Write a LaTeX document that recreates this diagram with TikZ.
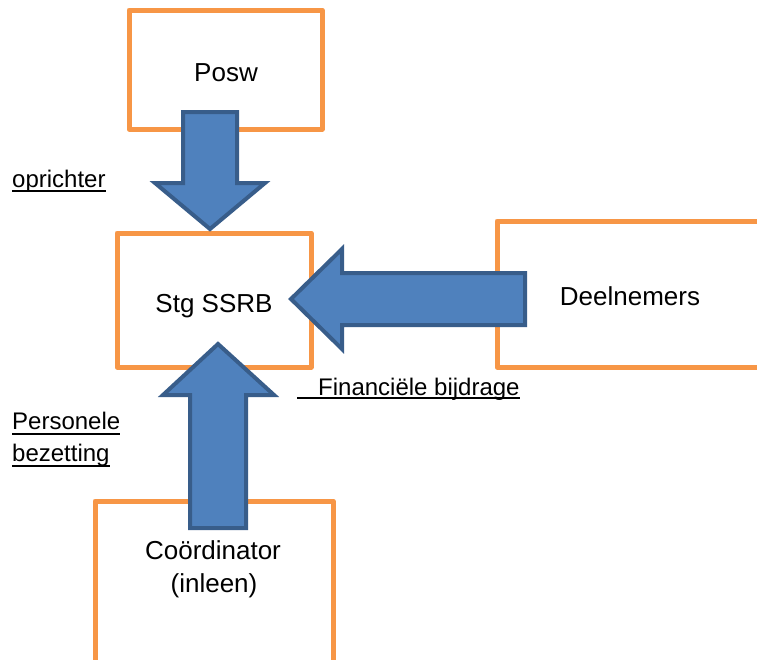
\documentclass[tikz,border=0pt]{standalone}
\usepackage{fontspec}
\setmainfont{Liberation Sans}
\usetikzlibrary{calc}
\definecolor{boxorange}{HTML}{F79646}
\definecolor{arrowfill}{HTML}{4F81BD}
\definecolor{arrowline}{HTML}{385D8A}
\tikzset{
  box/.style={draw=boxorange, line width=5pt, fill=white, line join=round},
  blockarrow/.style={fill=arrowfill, draw=arrowline, line width=4pt, line join=miter},
  boxtext/.style={inner sep=0pt, anchor=base, font=\fontsize{26}{30}\selectfont},
  labeltext/.style={inner sep=0pt, anchor=base west, font=\fontsize{24}{28}\selectfont},
  uline/.style={line width=1.5pt}
}
\begin{document}
\begin{tikzpicture}[x=1pt, y=-1pt]
\useasboundingbox (0,0) rectangle (757,659);
\clip (0,0) rectangle (757,659);
\fill[white] (0,0) rectangle (757,659);
% boxes
\draw[box] (129,10) rectangle (322,129);
\draw[box] (117,233) rectangle (311,367);
\draw[box] (497,221) rectangle (780,367);
\draw[box] (95,501) rectangle (333,700);
% box texts
\node[boxtext] (posw) at (226,81.7) {Posw};
\node[boxtext] (stg) at (214,312.7) {Stg SSRB};
\node[boxtext] (deel) at (630,305) {Deelnemers};
\node[boxtext] (coord) at (213,559) {Coördinator};
\node[boxtext] (inleen) at (214,592) {(inleen)};
% block arrows
\draw[blockarrow] (183,112) -- (237,112) -- (237,183) -- (265,183) -- (210,229) -- (155,183) -- (183,183) -- cycle;
\draw[blockarrow] (525,273) -- (525,325) -- (342,325) -- (342,349) -- (291,299) -- (342,249) -- (342,273) -- cycle;
\draw[blockarrow] (190,528) -- (246,528) -- (246,395) -- (274,395) -- (218,344) -- (163,395) -- (190,395) -- cycle;
% labels
\node[labeltext] (opr) at (12,187) {oprichter};
\draw[uline] ($(opr.base west)+(0,4)$) -- ($(opr.base east)+(0,4)$);
\node[labeltext] (pers) at (12,429) {Personele};
\draw[uline] ($(pers.base west)+(0,5)$) -- ($(pers.base east)+(0,5)$);
\node[labeltext] (bez) at (12,461) {bezetting};
\draw[uline] ($(bez.base west)+(0,5)$) -- ($(bez.base east)+(0,5)$);
\node[labeltext] (fin) at (318,395) {Financiële bijdrage};
\coordinate (finstart) at (297,398);
\draw[uline] (finstart) -- (finstart -| fin.base east);
\end{tikzpicture}
\end{document}
